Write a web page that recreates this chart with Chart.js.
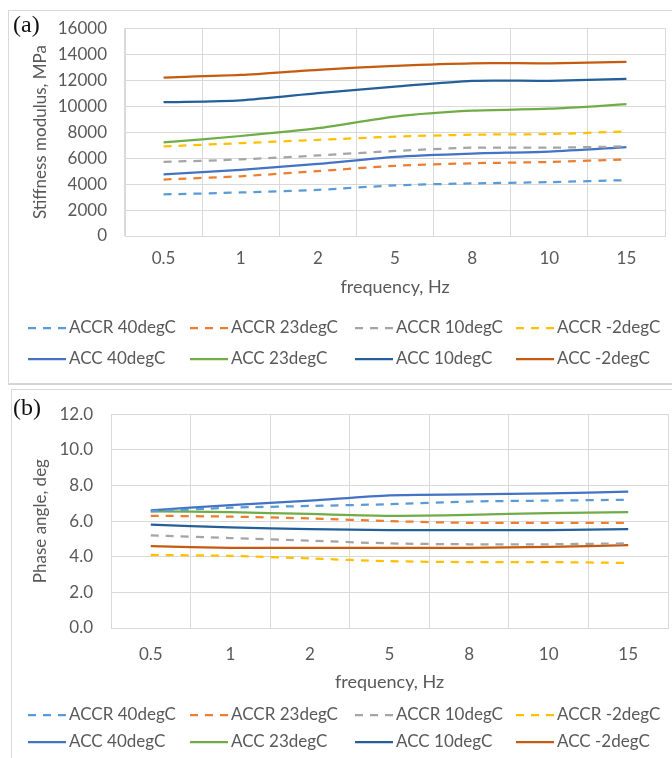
<!DOCTYPE html>
<html>
<head>
<meta charset="utf-8">
<script src="https://cdn.jsdelivr.net/npm/chart.js@4"></script>
<style>
  html, body { margin: 0; padding: 0; background: #fff; }
  body { width: 672px; height: 758px; position: relative; overflow: hidden; }
  .panel { position: absolute; border: 1px solid #d9d9d9; border-right: none; }
  #panel-a { left: 8px; top: 10px; width: 680px; height: 372px; border-bottom: 2px solid #d4d4d4; }
  #panel-b { left: 11px; top: 389px; width: 680px; height: 400px; border-bottom: none; }
  .tag { position: absolute; font-family: "Liberation Serif", serif; font-size: 24px; color: #111; line-height: 1; }
  canvas { position: absolute; left: 0; }
</style>
</head>
<body>
<div class="panel" id="panel-a"></div>
<div class="panel" id="panel-b"></div>
<canvas id="chart-a" width="672" height="384" style="top:0"></canvas>
<canvas id="chart-b" width="672" height="372" style="top:386px"></canvas>
<div class="tag" style="left:13px; top:12px">(a)</div>
<div class="tag" style="left:13px; top:395px">(b)</div>

<script>
const frequencies = ['0.5', '1', '2', '5', '8', '10', '15'];

const seriesNames = [
    'ACCR 40degC', 'ACCR 23degC', 'ACCR 10degC', 'ACCR -2degC',
    'ACC 40degC', 'ACC 23degC', 'ACC 10degC', 'ACC -2degC'
];
const seriesColors = [
    '#5B9BD5', '#ED7D31', '#A5A5A5', '#FFC000',
    '#4472C4', '#70AD47', '#245F99', '#C55A11'
];

// stiffness modulus, MPa
const stiffAccr40 = [3200, 3350, 3550, 3900, 4050, 4150, 4300];
const stiffAccr23 = [4350, 4600, 5000, 5400, 5600, 5700, 5900];
const stiffAccr10 = [5700, 5900, 6200, 6550, 6800, 6800, 6900];
const stiffAccrM2 = [6900, 7150, 7400, 7650, 7800, 7850, 8050];
const stiffAcc40 = [4750, 5100, 5550, 6100, 6350, 6500, 6850];
const stiffAcc23 = [7200, 7700, 8300, 9200, 9650, 9800, 10150];
const stiffAcc10 = [10300, 10450, 11000, 11500, 11950, 11950, 12100];
const stiffAccM2 = [12200, 12400, 12800, 13100, 13300, 13300, 13400];

// phase angle, deg
const phaseAccr40 = [6.55, 6.75, 6.85, 6.95, 7.1, 7.15, 7.2];
const phaseAccr23 = [6.3, 6.25, 6.15, 6.0, 5.9, 5.9, 5.9];
const phaseAccr10 = [5.2, 5.05, 4.9, 4.75, 4.7, 4.7, 4.75];
const phaseAccrM2 = [4.1, 4.05, 3.9, 3.75, 3.7, 3.7, 3.65];
const phaseAcc40 = [6.6, 6.9, 7.15, 7.45, 7.5, 7.55, 7.65];
const phaseAcc23 = [6.55, 6.5, 6.4, 6.3, 6.35, 6.45, 6.5];
const phaseAcc10 = [5.8, 5.65, 5.55, 5.5, 5.5, 5.5, 5.55];
const phaseAccM2 = [4.6, 4.5, 4.5, 4.5, 4.5, 4.55, 4.65];

const TEXT_COLOR = '#595959';
const GRID_COLOR = '#d9d9d9';
const DASH = [8, 7];

// Legend laid out in fixed columns, 4 entries per row
const gridLegend = {
    id: 'gridLegend',
    afterDraw(chart, args, opts) {
        const ctx = chart.ctx;
        ctx.save();
        chart.data.datasets.forEach((ds, i) => {
            const x = opts.columns[i % 4];
            const y = opts.rows[Math.floor(i / 4)];
            ctx.strokeStyle = ds.borderColor;
            ctx.lineWidth = ds.borderWidth;
            ctx.setLineDash(ds.borderDash || []);
            ctx.beginPath();
            ctx.moveTo(x, y);
            ctx.lineTo(x + 38, y);
            ctx.stroke();
            ctx.setLineDash([]);
            ctx.fillStyle = TEXT_COLOR;
            ctx.font = '17px Lato';
            ctx.textBaseline = 'middle';
            ctx.textAlign = 'left';
            ctx.fillText(ds.label, x + 41, y);
        });
        ctx.restore();
    }
};

function makeDatasets(seriesData) {
    return seriesData.map((values, i) => ({
        label: seriesNames[i],
        data: values,
        borderColor: seriesColors[i],
        backgroundColor: seriesColors[i],
        borderWidth: 2.25,
        borderDash: i < 4 ? DASH : [],
        pointRadius: 0,
        tension: 0.25,
        fill: false
    }));
}

function buildChart(canvasId, cfg) {
    new Chart(document.getElementById(canvasId), {
        type: 'line',
        data: {
            labels: frequencies,
            datasets: makeDatasets(cfg.series)
        },
        plugins: [gridLegend],
        options: {
            responsive: false,
            animation: false,
            layout: { padding: cfg.padding },
            plugins: {
                legend: { display: false },
                tooltip: { enabled: false },
                gridLegend: { columns: [28, 190, 355, 516], rows: cfg.legendRows }
            },
            scales: {
                x: {
                    offset: true,
                    grid: { offset: true, color: GRID_COLOR, drawTicks: false },
                    border: { color: GRID_COLOR },
                    ticks: { color: TEXT_COLOR, font: { family: 'Lato', size: 17 }, padding: cfg.xTickPad, maxRotation: 0 },
                    title: {
                        display: true, text: 'frequency, Hz', color: TEXT_COLOR,
                        font: { family: 'Lato', size: 18 }, padding: 0
                    },
                    afterFit: (s) => { s.height = cfg.xHeight; }
                },
                y: {
                    min: 0,
                    max: cfg.yMax,
                    grid: { color: GRID_COLOR, drawTicks: false },
                    border: { color: GRID_COLOR },
                    ticks: {
                        stepSize: cfg.yStep,
                        color: TEXT_COLOR,
                        font: { family: 'Lato', size: 17 },
                        padding: 18,
                        callback: cfg.yFormat
                    },
                    title: {
                        display: true, text: cfg.yTitle, color: TEXT_COLOR,
                        font: { family: 'Lato', size: 17 }, padding: { top: 30, bottom: 0 }
                    },
                    afterFit: (s) => { s.width = cfg.yWidth; }
                }
            }
        }
    });
}

buildChart('chart-a', {
    series: [stiffAccr40, stiffAccr23, stiffAccr10, stiffAccrM2, stiffAcc40, stiffAcc23, stiffAcc10, stiffAccM2],
    padding: { left: 0, top: 28, right: 7, bottom: 86 },
    yMax: 16000,
    yStep: 2000,
    yFormat: (v) => String(v),
    yTitle: 'Stiffness modulus, MPa',
    yWidth: 125,
    xHeight: 62,
    xTickPad: 12,
    legendRows: [328, 359]
});

buildChart('chart-b', {
    series: [phaseAccr40, phaseAccr23, phaseAccr10, phaseAccrM2, phaseAcc40, phaseAcc23, phaseAcc10, phaseAccM2],
    padding: { left: 0, top: 22, right: 4, bottom: 65 },
    yMax: 12,
    yStep: 2,
    yFormat: (v) => v.toFixed(1),
    yTitle: 'Phase angle, deg',
    yWidth: 111,
    xHeight: 65,
    xTickPad: 16,
    legendRows: [329, 356]
});
</script>
</body>
</html>
